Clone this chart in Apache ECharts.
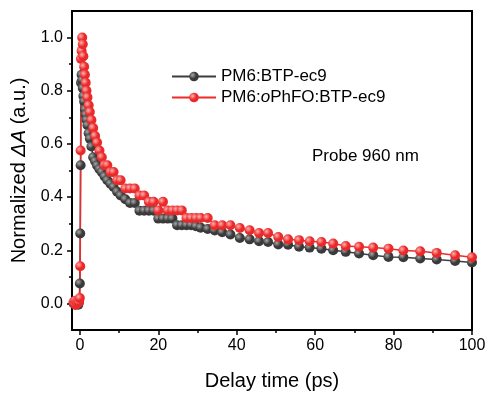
<!DOCTYPE html>
<html>
<head>
<meta charset="utf-8">
<script src="https://cdn.jsdelivr.net/npm/echarts@6/dist/echarts.min.js"></script>
<style>html,body{margin:0;padding:0;background:#fff;}#c{width:490px;height:396px;}</style>
</head>
<body>
<div id="c"></div>
<script>
const times = [-1.6,-1.4,-1.2,-1.0,-0.8,-0.6,-0.4,-0.2,0,0.1,0.2,0.3,0.45,0.6,0.75,0.9,1.1,1.3,1.5,1.7,1.95,2.25,2.55,2.95,3.4,3.9,4.4,5.0,5.6,6.3,7.0,7.8,8.6,9.5,10.4,11.6,12.8,14.0,15.2,16.4,17.6,18.8,20.0,21.2,22.4,23.6,24.8,26.0,27.2,28.4,29.6,30.8,32.6,34.4,36.3,38.4,40.8,43.3,45.7,48.0,50.6,53.1,55.9,58.6,61.6,64.6,67.8,71.2,74.8,78.7,82.5,86.8,91.0,95.7,100];
const blackValues = [0.0,0.005,-0.005,0.0,0.005,0.0,-0.005,0.005,0.075,0.263,0.52,0.83,0.86,0.84,0.81,0.78,0.76,0.73,0.71,0.69,0.67,0.64,0.62,0.59,0.55,0.535,0.519,0.505,0.494,0.478,0.463,0.45,0.438,0.42,0.406,0.392,0.378,0.378,0.349,0.349,0.349,0.349,0.319,0.319,0.319,0.319,0.294,0.294,0.294,0.294,0.29,0.285,0.28,0.274,0.268,0.259,0.246,0.241,0.234,0.231,0.222,0.221,0.213,0.21,0.206,0.2,0.194,0.188,0.181,0.175,0.174,0.169,0.165,0.16,0.154];
const redValues = [0.005,0.0,0.01,-0.005,0.005,0.0,0.01,0.005,0.02,0.14,0.575,0.92,0.95,1.0,0.975,0.93,0.89,0.86,0.83,0.80,0.775,0.745,0.72,0.69,0.66,0.63,0.605,0.575,0.55,0.52,0.52,0.494,0.494,0.463,0.463,0.432,0.432,0.432,0.406,0.406,0.382,0.382,0.35,0.382,0.35,0.35,0.35,0.35,0.321,0.321,0.321,0.321,0.321,0.294,0.294,0.294,0.284,0.275,0.265,0.265,0.25,0.241,0.238,0.234,0.231,0.225,0.216,0.213,0.21,0.206,0.199,0.196,0.19,0.181,0.174];
const seriesNames = ['PM6:BTP-ec9','PM6:oPhFO:BTP-ec9'];
const xTicks = [0,20,40,60,80,100];
const xMinor = [10,30,50,70,90];
const yTicks = [0,0.2,0.4,0.6,0.8,1.0];
const yMinor = [0.1,0.3,0.5,0.7,0.9];
const probeText = 'Probe 960 nm';

const FONT = '"Liberation Sans", Arial, sans-serif';
function zip(t, v){ return t.map((x,i)=>[x, v[i]]); }
function ball(base, hi){
  return {type:'radial', x:0.35, y:0.35, r:0.7, colorStops:[{offset:0,color:hi},{offset:0.55,color:base},{offset:1,color:base}]};
}
const chart = echarts.init(document.getElementById('c'), null, {renderer:'canvas'});
const axisLine = {show:true, onZero:false, lineStyle:{color:'#000', width:2}};
const noLine = {show:false, onZero:false};
chart.setOption({
  backgroundColor:'#fff',
  animation:false,
  grid: {left:72, right:18, top:11, bottom:63},
  legend: {
    orient:'vertical', left:171, top:67, padding:0, itemGap:2,
    itemWidth:44, itemHeight:12,
    textStyle:{fontFamily:FONT, fontSize:17, color:'#000', lineHeight:19,
      rich:{n:{fontFamily:FONT,fontSize:17,color:'#000'}, i:{fontFamily:FONT,fontSize:17,color:'#000',fontStyle:'italic'}}},
    formatter: function(name){
      if (name === seriesNames[1]) return '{n|PM6:}{i|o}{n|PhFO:BTP-ec9}';
      return '{n|' + name + '}';
    },
    data: seriesNames
  },
  xAxis: [
    {type:'value', min:-2, max:100, position:'bottom',
     name:'Delay time (ps)', nameLocation:'middle', nameGap:41,
     nameTextStyle:{fontFamily:FONT, fontSize:20, color:'#000'},
     axisLine:axisLine, splitLine:{show:false},
     axisTick:{show:true, inside:false, length:5, lineStyle:{color:'#000',width:1.5}, customValues:xTicks},
     axisLabel:{fontFamily:FONT, fontSize:16, color:'#000', margin:8, customValues:xTicks}},
    {type:'value', min:-2, max:100, position:'bottom',
     axisLine:noLine, splitLine:{show:false},
     axisTick:{show:true, inside:false, length:3, lineStyle:{color:'#000',width:1.5}, customValues:xMinor},
     axisLabel:{show:false}},
    {type:'value', min:-2, max:100, position:'top',
     axisLine:axisLine, splitLine:{show:false}, axisTick:{show:false}, axisLabel:{show:false}}
  ],
  yAxis: [
    {type:'value', min:-0.1, max:1.1, position:'left',
     name:'Normalized {i|ΔA} (a.u.)', nameLocation:'middle', nameGap:40,
     nameTextStyle:{fontFamily:FONT, fontSize:20, color:'#000',
       rich:{i:{fontFamily:FONT, fontSize:20, color:'#000', fontStyle:'italic'}}},
     axisLine:axisLine, splitLine:{show:false},
     axisTick:{show:true, inside:false, length:5, lineStyle:{color:'#000',width:1.5}, customValues:yTicks},
     axisLabel:{fontFamily:FONT, fontSize:16, color:'#000', margin:9, customValues:yTicks,
       formatter:(v)=>v.toFixed(1)}},
    {type:'value', min:-0.1, max:1.1, position:'left',
     axisLine:noLine, splitLine:{show:false},
     axisTick:{show:true, inside:false, length:3, lineStyle:{color:'#000',width:1.5}, customValues:yMinor},
     axisLabel:{show:false}},
    {type:'value', min:-0.1, max:1.1, position:'right',
     axisLine:axisLine, splitLine:{show:false}, axisTick:{show:false}, axisLabel:{show:false}}
  ],
  graphic: [
    {type:'text', left:312, top:148, style:{text:probeText, fontFamily:FONT, fontSize:17, fill:'#000'}}
  ],
  series: [
    {name:seriesNames[0], type:'line', data:zip(times, blackValues),
     symbol:'circle', symbolSize:10, showAllSymbol:true,
     lineStyle:{color:'#3d3d3d', width:1.5},
     itemStyle:{color:ball('#3a3a3a','#a8a8a8'), borderWidth:0}},
    {name:seriesNames[1], type:'line', data:zip(times, redValues),
     symbol:'circle', symbolSize:10, showAllSymbol:true,
     lineStyle:{color:'#ee2a2a', width:1.5},
     itemStyle:{color:ball('#ea2a2a','#ffb0b0'), borderWidth:0}}
  ]
});
</script>
</body>
</html>
